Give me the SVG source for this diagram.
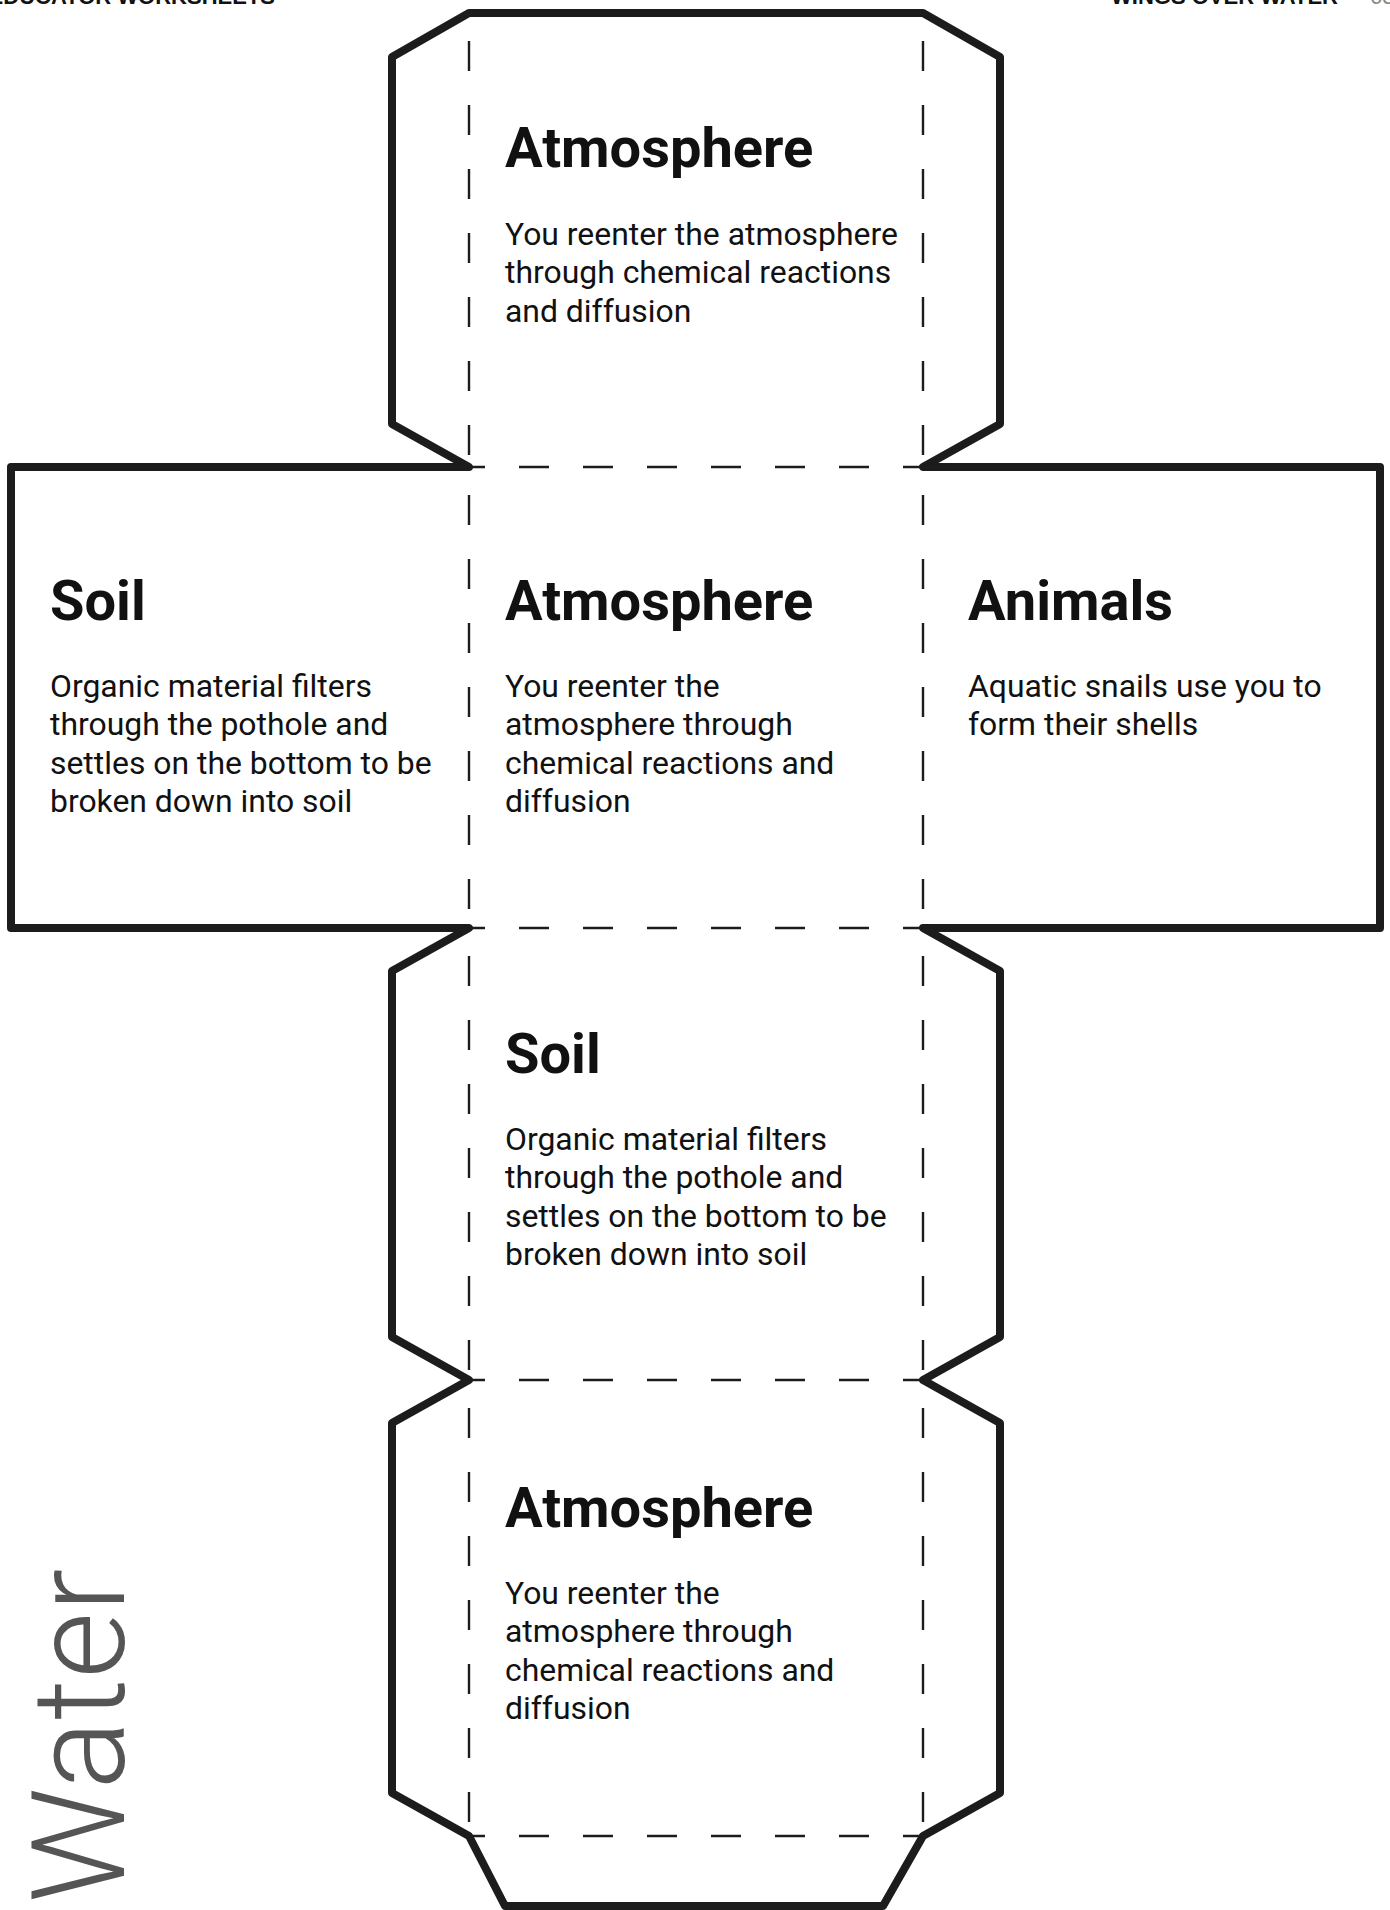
<svg xmlns="http://www.w3.org/2000/svg" width="1390" height="1910" viewBox="0 0 1390 1910">
<style>
.outline{fill:#ffffff;stroke:#1c1c1c;stroke-width:8;stroke-linejoin:round}
.fold{stroke:#1c1c1c;stroke-width:2.4;fill:none;stroke-dasharray:30 34}
.title{font-family:Roboto,"Liberation Sans",sans-serif;font-weight:700;font-size:56px;fill:#111}
.body{font-family:Roboto,"Liberation Sans",sans-serif;font-weight:400;font-size:31.9px;fill:#111}
.hdr{font-family:"Liberation Sans",Arial,sans-serif;font-weight:700;font-size:22px;fill:#111}
</style>
<rect width="1390" height="1910" fill="#ffffff"/>
<g id="header">
<text class="hdr" x="275" y="4" text-anchor="end">EDUCATOR WORKSHEETS</text>
<text class="hdr" x="1338" y="4" text-anchor="end">WINGS OVER WATER</text>
<text class="hdr" x="1370" y="4" style="fill:#888;font-weight:400">63</text>
</g>
<g id="net">
<path class="outline" d="M469,13 L923,13 L1000,57 L1000,424 L923,467 L1380,467 L1380,928 L923,928 L1000,971 L1000,1337 L923,1380 L1000,1423 L1000,1793 L923,1836 L883,1906 L505,1906 L469,1836 L392,1793 L392,1423 L469,1380 L392,1337 L392,971 L469,928 L11,928 L11,467 L469,467 L392,424 L392,57 Z"/>
</g>
<g id="folds">
<line class="fold" x1="469" y1="13" x2="469" y2="467" stroke-dashoffset="36"/>
<line class="fold" x1="923" y1="13" x2="923" y2="467" stroke-dashoffset="36"/>
<line class="fold" x1="469" y1="467" x2="469" y2="928" stroke-dashoffset="36"/>
<line class="fold" x1="923" y1="467" x2="923" y2="928" stroke-dashoffset="36"/>
<line class="fold" x1="469" y1="928" x2="469" y2="1380" stroke-dashoffset="36"/>
<line class="fold" x1="923" y1="928" x2="923" y2="1380" stroke-dashoffset="36"/>
<line class="fold" x1="469" y1="1380" x2="469" y2="1836" stroke-dashoffset="36"/>
<line class="fold" x1="923" y1="1380" x2="923" y2="1836" stroke-dashoffset="36"/>
<line class="fold" x1="469" y1="467" x2="923" y2="467" stroke-dashoffset="14"/>
<line class="fold" x1="469" y1="928" x2="923" y2="928" stroke-dashoffset="14"/>
<line class="fold" x1="469" y1="1380" x2="923" y2="1380" stroke-dashoffset="14"/>
<line class="fold" x1="469" y1="1836" x2="923" y2="1836" stroke-dashoffset="14"/>
</g>
<g id="face-top">
<text class="title" x="505" y="167">Atmosphere</text>
<text class="body" x="505" y="245">You reenter the atmosphere</text>
<text class="body" x="505" y="283">through chemical reactions</text>
<text class="body" x="505" y="322">and diffusion</text>
</g>
<g id="face-left">
<text class="title" x="50" y="620">Soil</text>
<text class="body" x="50" y="697">Organic material filters</text>
<text class="body" x="50" y="735">through the pothole and</text>
<text class="body" x="50" y="774">settles on the bottom to be</text>
<text class="body" x="50" y="812">broken down into soil</text>
</g>
<g id="face-center">
<text class="title" x="505" y="620">Atmosphere</text>
<text class="body" x="505" y="697">You reenter the</text>
<text class="body" x="505" y="735">atmosphere through</text>
<text class="body" x="505" y="774">chemical reactions and</text>
<text class="body" x="505" y="812">diffusion</text>
</g>
<g id="face-right">
<text class="title" x="968" y="620">Animals</text>
<text class="body" x="968" y="697">Aquatic snails use you to</text>
<text class="body" x="968" y="735">form their shells</text>
</g>
<g id="face-lower">
<text class="title" x="505" y="1073">Soil</text>
<text class="body" x="505" y="1150">Organic material filters</text>
<text class="body" x="505" y="1188">through the pothole and</text>
<text class="body" x="505" y="1227">settles on the bottom to be</text>
<text class="body" x="505" y="1265">broken down into soil</text>
</g>
<g id="face-bottom">
<text class="title" x="505" y="1527">Atmosphere</text>
<text class="body" x="505" y="1604">You reenter the</text>
<text class="body" x="505" y="1642">atmosphere through</text>
<text class="body" x="505" y="1681">chemical reactions and</text>
<text class="body" x="505" y="1719">diffusion</text>
</g>
<g id="water-label">
<text transform="translate(124,1903) rotate(-90)" font-family="Roboto, 'Open Sans', sans-serif" font-weight="300" font-size="129" fill="#555555">Water</text>
</g>
</svg>
